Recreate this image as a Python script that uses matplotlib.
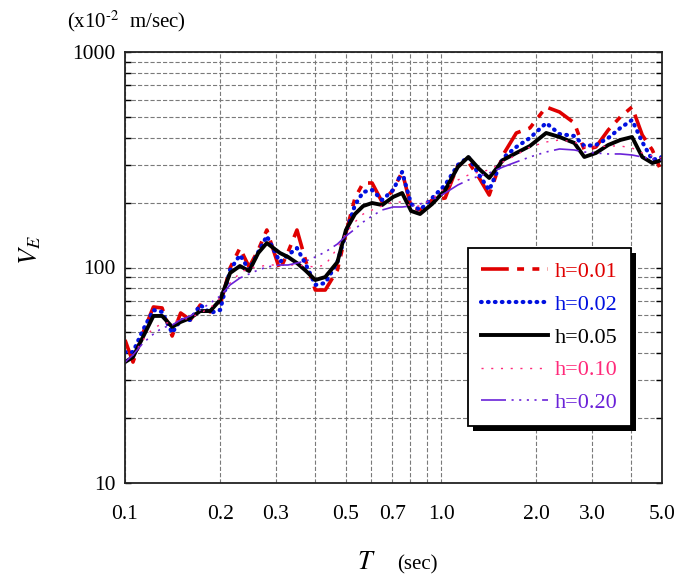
import matplotlib
matplotlib.use("Agg")
import matplotlib.pyplot as plt
from matplotlib.ticker import FixedLocator, NullFormatter, FixedFormatter
from matplotlib.patches import Rectangle

plt.rcParams['font.family'] = ['Liberation Serif', 'DejaVu Serif']
plt.rcParams['mathtext.fontset'] = 'stix'
plt.rcParams['lines.scale_dashes'] = False

# ---- data ----
period = [0.10, 0.106, 0.114, 0.123, 0.131, 0.141, 0.150, 0.161, 0.173, 0.186,
          0.20, 0.215, 0.231, 0.247, 0.264, 0.281, 0.309, 0.328, 0.35, 0.374,
          0.40, 0.43, 0.47, 0.50, 0.534, 0.567, 0.605, 0.651, 0.705, 0.753,
          0.804, 0.858, 0.937, 1.03, 1.13, 1.22, 1.32, 1.42, 1.57, 1.73,
          1.91, 2.15, 2.37, 2.64, 2.84, 3.09, 3.38, 3.69, 4.02, 4.33, 4.66, 5.0]

ve_h001 = [46.1, 36.4, 49.7, 65.6, 64.9, 48.1, 61.5, 57.1, 67.0, 62.2,
           67.0, 99.5, 123.1, 100.5, 120.5, 149.3, 97.4, 118.0, 149.3, 106.0,
           78.6, 78.6, 97.4, 144.6, 210.1, 246.7, 246.7, 201.3, 228.8, 277.5,
           190.9, 184.9, 205.7, 210.1, 299.0, 308.8, 260.3, 216.9, 332.7, 420.9,
           443.9, 555.6, 526.7, 468.3, 351.0, 362.5, 434.5, 499.4, 555.6, 411.9, 351.0, 274.5]

ve_h002 = [40.5, 40.5, 51.3, 63.5, 62.2, 49.7, 57.1, 57.1, 67.0, 61.5,
           63.5, 97.4, 114.3, 97.4, 118.0, 140.0, 106.0, 114.3, 123.1, 102.7,
           83.0, 84.7, 106.0, 144.6, 195.0, 224.0, 228.8, 205.7, 228.8, 277.5,
           197.1, 184.9, 210.1, 241.5, 299.0, 325.7, 268.7, 228.8, 322.2, 362.5,
           399.0, 468.3, 416.4, 407.6, 366.3, 370.3, 399.0, 443.9, 483.6, 382.3, 315.4, 325.7]

ve_h005 = [36.4, 38.4, 47.6, 59.6, 59.6, 53.0, 55.9, 58.3, 62.8, 62.8,
           70.7, 94.3, 101.6, 96.3, 116.8, 129.9, 116.8, 111.9, 104.9, 96.3,
           87.5, 90.3, 106.0, 149.3, 177.1, 192.9, 199.2, 195.0, 212.4, 221.6,
           182.9, 177.1, 197.1, 228.8, 292.7, 325.7, 286.5, 260.3, 315.4, 339.9,
           366.3, 420.9, 403.3, 378.3, 325.7, 339.9, 370.3, 390.6, 403.3, 325.7, 305.4, 315.4]

ve_h010 = [36.4, 39.3, 46.1, 52.4, 54.7, 55.9, 57.1, 58.3, 61.5, 64.9,
           72.2, 84.7, 94.3, 99.5, 100.5, 102.7, 102.7, 102.7, 102.7, 101.6,
           100.5, 102.7, 123.1, 144.6, 162.6, 177.1, 184.9, 192.9, 201.3, 201.3,
           192.9, 192.9, 207.9, 233.8, 254.7, 268.7, 277.5, 283.5, 308.8, 332.7,
           362.5, 382.3, 390.6, 382.3, 362.5, 362.5, 366.3, 366.3, 358.6, 339.9, 329.2, 322.2]

ve_h020 = [36.4, 39.3, 44.6, 49.1, 52.4, 54.1, 57.1, 59.6, 63.5, 68.4,
           73.7, 83.0, 89.4, 93.3, 97.4, 100.5, 102.7, 102.7, 104.9, 107.2,
           111.9, 118.0, 128.5, 140.0, 150.8, 162.6, 173.4, 184.9, 190.9, 190.9,
           192.9, 197.1, 205.7, 221.6, 241.5, 254.7, 265.9, 274.5, 292.7, 308.8,
           325.7, 343.6, 354.8, 351.0, 343.6, 339.9, 336.4, 336.4, 332.7, 325.7, 318.8, 315.4]

labels = ["h=0.01", "h=0.02", "h=0.05", "h=0.10", "h=0.20"]
colors = ["#e00000", "#0010e0", "#000000", "#ff2a7a", "#6a22d8"]

x_ticks = [0.1, 0.2, 0.3, 0.5, 0.7, 1.0, 2.0, 3.0, 5.0]
x_ticklabels = ["0.1", "0.2", "0.3", "0.5", "0.7", "1.0", "2.0", "3.0", "5.0"]
x_minor = [0.4, 0.6, 0.8, 0.9, 4.0]
y_ticks = [10, 100, 1000]
y_ticklabels = ["10", "100", "1000"]
y_minor = [20, 30, 40, 50, 60, 70, 80, 90, 200, 300, 400, 500, 600, 700, 800, 900]

# ---- figure ----
fig = plt.figure(figsize=(6.75, 5.79), dpi=100)
ax = fig.add_axes([125/675, 1-483/579, 537/675, 431/579])
ax.set_xscale('log')
ax.set_yscale('log')
ax.set_xlim(0.1, 5.0)
ax.set_ylim(10, 1000)

series = [ve_h001, ve_h002, ve_h005, ve_h010, ve_h020]
styles = [
    dict(lw=2.6, dashes=[20, 6, 5, 6, 5, 6]),
    dict(lw=3.0, dashes=[0.5, 4.5], dash_capstyle='round'),
    dict(lw=2.8, linestyle='-'),
    dict(lw=1.0, dashes=[1.5, 5.5]),
    dict(lw=1.2, dashes=[18, 4, 1.5, 4, 1.5, 4, 1.5, 4, 1.5, 4]),
]
handles = []
for vals, lab, col, st in zip(series, labels, colors, styles):
    ln, = ax.plot(period, vals, color=col, label=lab, **st)
    handles.append(ln)

ax.xaxis.set_major_locator(FixedLocator(x_ticks))
ax.xaxis.set_major_formatter(FixedFormatter(x_ticklabels))
ax.xaxis.set_minor_locator(FixedLocator(x_minor))
ax.xaxis.set_minor_formatter(NullFormatter())
ax.yaxis.set_major_locator(FixedLocator(y_ticks))
ax.yaxis.set_major_formatter(FixedFormatter(y_ticklabels))
ax.yaxis.set_minor_locator(FixedLocator(y_minor))
ax.yaxis.set_minor_formatter(NullFormatter())

ax.grid(True, which='both', color='#7a7a7a', linestyle=(0, (3, 1.5)), linewidth=0.8)
ax.tick_params(axis='x', which='both', direction='in', length=0, pad=16, labelsize=15.5)
ax.tick_params(axis='y', which='both', direction='in', length=4, width=1,
               left=True, right=True, pad=7, labelsize=15.5)
for sp in ax.spines.values():
    sp.set_linewidth(1.3)
    sp.set_color('#222222')

# axis labels
fig.text(67/675, 1-21/579, r"(x10$^{\text{-2}}$  m/sec)", fontsize=15, ha='left', va='center')
fig.text(30/675, 1-250/579, r"$V_E$", fontsize=19, rotation=90, ha='center', va='center')
fig.text(366/675, 1-563/579, r"$T$", fontsize=19, ha='center', va='center')
fig.text(397/675, 1-565/579, "(sec)", fontsize=15, ha='left', va='center')

leg = ax.legend(handles, labels, loc='upper left', bbox_to_anchor=(0.639, 0.545),
                fontsize=16, handlelength=3.0, handletextpad=0.3, labelspacing=0.55,
                borderpad=0.6, fancybox=False, framealpha=1, edgecolor='black',
                labelcolor=colors, borderaxespad=0)
leg.get_frame().set_linewidth(1.3)
leg.set_zorder(11)

fig.canvas.draw()
bb = leg.get_window_extent()
inv = fig.transFigure.inverted()
(x0, y0), (x1, y1) = inv.transform([[bb.x0 + 5, bb.y0 - 5], [bb.x1 + 5, bb.y1 - 5]])
shadow = Rectangle((x0, y0), x1 - x0, y1 - y0, transform=fig.transFigure,
                   facecolor='black', edgecolor='none', zorder=10, clip_on=False)
ax.add_artist(shadow)

fig.savefig("out.png", dpi=100)
